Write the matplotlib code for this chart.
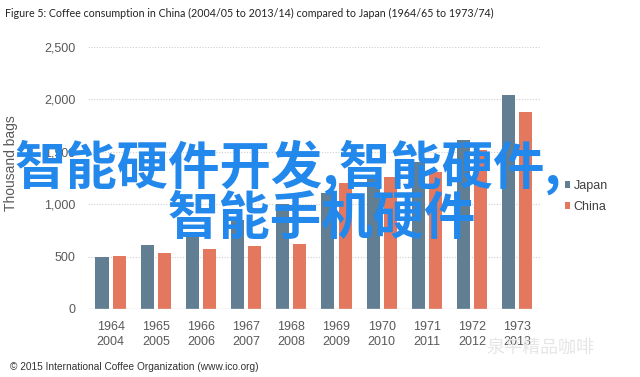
import numpy as np
import matplotlib
matplotlib.use('Agg')
import matplotlib.pyplot as plt

years_japan = ['1964', '1965', '1966', '1967', '1968', '1969', '1970', '1971', '1972', '1973']
years_china = ['2004', '2005', '2006', '2007', '2008', '2009', '2010', '2011', '2012', '2013']
japan = [495, 610, 730, 850, 1000, 1107, 1250, 1400, 1613, 2042]
china = [508, 537, 572, 600, 617, 1200, 1260, 1307, 1520, 1877]
yticks = [0, 500, 1000, 1500, 2000, 2500]

plt.rcParams['font.family'] = ['Liberation Sans', 'DejaVu Sans']

fig = plt.figure(figsize=(6.4, 3.77), dpi=100)
ax = fig.add_axes([0.1375, 0.1804, 0.706, 0.6949])

x = np.arange(len(japan))
w = 0.29
ax.bar(x - 0.19, japan, w, color='#627e92', label='Japan', zorder=3)
ax.bar(x + 0.19, china, w, color='#e4785f', label='China', zorder=3)

ax.set_xlim(-0.5, len(japan) - 0.5)
ax.set_ylim(0, 2500)
ax.set_yticks(yticks)
ax.set_yticklabels(['{:,}'.format(v) for v in yticks])
ax.set_xticks(x)
ax.set_xticklabels([a + '\n' + b for a, b in zip(years_japan, years_china)], linespacing=1.25)
ax.tick_params(length=0, labelsize=9, colors='#595959', pad=9)
ax.tick_params(axis='y', pad=9)
for s in ax.spines.values():
    s.set_visible(False)
for v in yticks[1:]:
    ax.axhline(v, color='#cfcfcf', lw=0.8, ls=(0, (1, 1.5)), zorder=1)
ax.axhline(0, color='#d9d9d9', lw=1, zorder=4)
ax.set_ylabel('Thousand bags', fontsize=10, color='#595959')
ax.yaxis.set_label_coords(-0.155, 0.557)

ax.legend(loc='center left', bbox_to_anchor=(1.03, 0.43), frameon=False, fontsize=9,
          handlelength=0.45, handleheight=0.45, handletextpad=0.25, labelspacing=0.75,
          labelcolor='#404040')

fig.text(0.008, 0.965, 'Figure 5: Coffee consumption in China (2004/05 to 2013/14) compared to Japan (1964/65 to 1973/74)',
         fontsize=7.7, family='Lato', color='#222222', va='center')
fig.text(0.016, 0.026, '\u00a9 2015 International Coffee Organization (www.ico.org)',
         fontsize=7.3, color='#333333', va='center')

# faint watermark bottom right
fig.text(0.76, 0.075, '泉平精品咖啡', fontsize=13, color='#e6e6e6', va='center',
         family=['Noto Sans CJK SC', 'DejaVu Sans'], zorder=0)

# big overlay text
fig.text(0.022, 1 - 167 / 377, '智能硬件开发,智能硬件,', fontsize=37, color='#2388ec',
         family=['Noto Sans CJK SC', 'DejaVu Sans'], weight='bold', va='center')
fig.text(0.262, 1 - 218 / 377, '智能手机硬件', fontsize=37, color='#2388ec',
         family=['Noto Sans CJK SC', 'DejaVu Sans'], weight='bold', va='center')

plt.savefig('out.png', dpi=100)
